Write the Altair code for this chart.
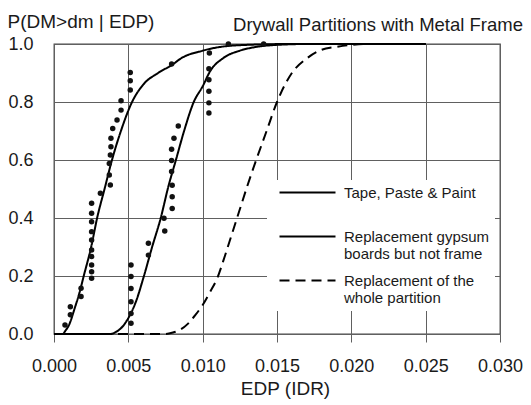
import altair as alt
import pandas as pd

# ---- values (EDP in units of 0.001 IDR) ----
SERIES = [
    "Tape, Paste & Paint|",
    "Replacement gypsum|boards but not frame",
    "Replacement of the|whole partition",
]

tape_x = [0, 0.6, 0.75, 1.0, 1.4, 1.7, 2.0, 2.5, 2.9, 3.4, 3.9, 4.5, 5.25, 6.0, 7.0, 8.0, 8.5, 10.0, 11.2, 13.0, 16.0, 25.0]
tape_p = [0, 0, 0.01, 0.03, 0.09, 0.14, 0.20, 0.30, 0.40, 0.50, 0.60, 0.70, 0.80, 0.86, 0.90, 0.93, 0.949, 0.977, 0.99, 0.997, 1.0, 1.0]

gyp_x = [0, 3.8, 4.2, 4.6, 5.0, 5.5, 6.05, 6.6, 7.18, 7.7, 8.2, 8.75, 9.4, 10.0, 10.5, 11.4, 12.5, 13.6, 15.0, 17.0, 25.0]
gyp_p = [0, 0, 0.008, 0.025, 0.055, 0.11, 0.20, 0.30, 0.40, 0.51, 0.60, 0.70, 0.80, 0.854, 0.906, 0.952, 0.977, 0.99, 0.997, 1.0, 1.0]

whole_x = [0, 7.5, 8.0, 8.5, 9.0, 9.5, 10.0, 10.5, 11.0, 11.5, 12.0, 12.5, 13.0, 13.6, 14.3, 15.0, 16.0, 17.0, 18.0, 19.0, 20.0, 21.0, 25.0]
whole_p = [0, 0, 0.005, 0.015, 0.035, 0.065, 0.10, 0.145, 0.195, 0.27, 0.35, 0.43, 0.51, 0.60, 0.70, 0.80, 0.90, 0.95, 0.98, 0.99, 0.997, 1.0, 1.0]

pts_x = [0.74, 1.10, 1.10, 1.82, 1.82,
         2.53, 2.53, 2.53, 2.53, 2.53, 2.53, 2.53, 2.53, 2.53, 2.53,
         3.12, 3.79, 3.72, 3.72, 3.79, 3.83, 3.83, 3.95, 4.24, 4.51, 4.51,
         5.13, 5.13, 5.13, 7.91, 11.73,
         5.18, 5.18, 5.18, 5.18, 5.18, 5.18, 6.35, 6.35, 7.45, 7.40,
         7.95, 7.95, 7.95, 7.91, 7.91, 7.91, 8.07, 8.36,
         10.42, 10.42, 10.42, 10.42, 10.42, 10.45, 14.1]
pts_p = [0.031, 0.066, 0.094, 0.129, 0.158,
         0.192, 0.215, 0.238, 0.267, 0.290, 0.324, 0.353, 0.387, 0.416, 0.451,
         0.485, 0.514, 0.548, 0.588, 0.617, 0.646, 0.675, 0.709, 0.738, 0.772, 0.804,
         0.841, 0.873, 0.902, 0.931, 1.0,
         0.037, 0.071, 0.111, 0.157, 0.198, 0.238, 0.272, 0.313, 0.355, 0.399,
         0.433, 0.473, 0.513, 0.560, 0.598, 0.637, 0.675, 0.717,
         0.762, 0.797, 0.837, 0.877, 0.915, 0.969, 1.0]

x_ticks = [0.0, 0.005, 0.010, 0.015, 0.020, 0.025, 0.030]
y_ticks = [0.0, 0.2, 0.4, 0.6, 0.8, 1.0]

# ---- tables ----
rows = []
for name, xs, ps in zip(SERIES, [tape_x, gyp_x, whole_x], [tape_p, gyp_p, whole_p]):
    for x, p in zip(xs, ps):
        rows.append({"edp": x / 1000.0, "p": p, "series": name})
curves = pd.DataFrame(rows)
points = pd.DataFrame({"edp": [v / 1000.0 for v in pts_x], "p": pts_p})

FONT = "Liberation Sans"
TXT = "#1a1a1a"
GRID = "#606060"

x_enc = alt.X(
    "edp:Q",
    scale=alt.Scale(domain=[0, 0.03], nice=False, zero=False),
    axis=alt.Axis(
        values=x_ticks, format=".3f", title="EDP (IDR)",
        grid=True, gridColor=GRID, gridWidth=1,
        domain=False, ticks=True, tickSize=8, tickColor=GRID, tickWidth=1,
        labelFont=FONT, labelFontSize=18, labelColor=TXT, labelPadding=15,
        labelFlush=False, labelOverlap=False,
        titleFont=FONT, titleFontSize=19, titleFontWeight="normal", titleColor=TXT,
        titleX=231, titleY=60, titleBaseline="alphabetic", titleAlign="center",
    ),
)
y_enc = alt.Y(
    "p:Q",
    scale=alt.Scale(domain=[0, 1], nice=False),
    axis=alt.Axis(
        values=y_ticks, format=".1f", title="P(DM>dm | EDP)",
        grid=True, gridColor=GRID, gridWidth=1,
        domain=False, ticks=False, labelPadding=21,
        labelFont=FONT, labelFontSize=18, labelColor=TXT,
        labelFlush=False, labelOverlap=False,
        titleFont=FONT, titleFontSize=19, titleFontWeight="normal", titleColor=TXT,
        titleAngle=0, titleAlign="left", titleBaseline="alphabetic",
        titleX=-47, titleY=-17,
    ),
)

lines = alt.Chart(curves).mark_line(color="black", strokeWidth=2, interpolate="monotone").encode(
    x=x_enc,
    y=y_enc,
    detail="series:N",
    strokeDash=alt.StrokeDash(
        "series:N",
        scale=alt.Scale(domain=SERIES, range=[[1, 0], [1, 0], [10, 6]]),
        legend=alt.Legend(
            title=None, orient="none", legendX=213, legendY=136,
            fillColor="white", padding=5,
            symbolType="M0,0H56", symbolSize=4, symbolStrokeWidth=2,
            symbolStrokeColor="black",
            labelFont=FONT, labelFontSize=15, labelColor=TXT,
            labelOffset=57, labelLimit=400, labelBaseline="middle",
            labelExpr="split(datum.label, '|')", rowPadding=11,
        ),
    ),
)

dots = alt.Chart(points).mark_point(filled=True, shape="circle", size=30, color="#111111", opacity=1).encode(
    x="edp:Q", y="p:Q"
)

chart = (
    alt.layer(lines, dots)
    .properties(
        width=446, height=290,
        padding={"left": 46, "top": 36, "right": 23, "bottom": 66},
        autosize=alt.AutoSizeParams(type="none"),
        title=alt.TitleParams(
            "Drywall Partitions with Metal Frame", anchor="end", frame="group",
            font=FONT, fontSize=18.5, fontWeight="normal", color=TXT,
            baseline="alphabetic", offset=0, dx=23, dy=37,
        ),
    )
    .configure_view(stroke="#4a4a4a", strokeWidth=1.3)
)

chart.save("out.html", embed_options={"renderer": "svg", "actions": False})
